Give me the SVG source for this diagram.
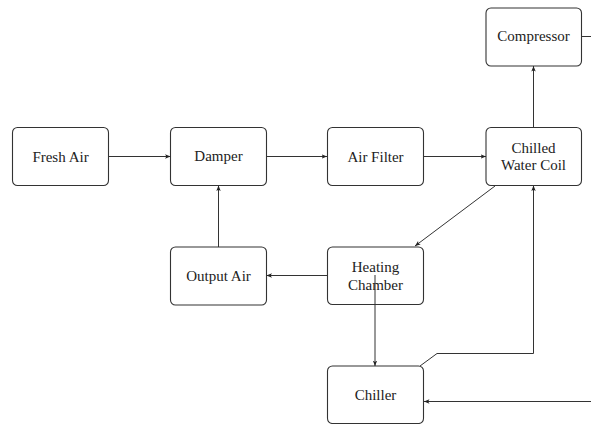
<svg xmlns="http://www.w3.org/2000/svg" width="591" height="424" viewBox="0 0 591 424">
<defs>
<marker id="arr" viewBox="0 0 10 8" refX="10" refY="4" markerWidth="5.5" markerHeight="4.4" markerUnits="userSpaceOnUse" orient="auto">
<path d="M0,0 L10,4 L0,8 L2.5,4 Z" fill="#222"/>
</marker>
</defs>
<style>
.box{fill:#fff;stroke:#333;stroke-width:1.1}
.lbl{font-family:"Liberation Serif","DejaVu Serif",serif;font-size:15px;fill:#222;text-anchor:middle;dominant-baseline:central}
.c{fill:none;stroke:#333;stroke-width:1}
</style>
<rect width="591" height="424" fill="#fff"/>
<g id="fresh-air"><rect class="box" x="12.5" y="127.5" width="96" height="58" rx="5"/><text class="lbl" x="60.5" y="156.5">Fresh Air</text></g>
<g id="damper"><rect class="box" x="170.5" y="127.5" width="96" height="58" rx="5"/><text class="lbl" x="218.5" y="156">Damper</text></g>
<g id="air-filter"><rect class="box" x="327.5" y="127.5" width="96" height="58" rx="5"/><text class="lbl" x="375.5" y="156.5">Air Filter</text></g>
<g id="chilled-water-coil"><rect class="box" x="486" y="127.5" width="95.5" height="58" rx="5"/><text class="lbl" x="533.5" y="148">Chilled</text><text class="lbl" x="533.5" y="165">Water Coil</text></g>
<g id="compressor"><rect class="box" x="486" y="8" width="95.5" height="58" rx="5"/><text class="lbl" x="533.5" y="36">Compressor</text></g>
<g id="output-air"><rect class="box" x="170.5" y="247" width="96" height="58" rx="5"/><text class="lbl" x="218.5" y="275.5">Output Air</text></g>
<g id="heating-chamber"><rect class="box" x="327.5" y="247" width="96" height="57.5" rx="5"/><text class="lbl" x="375.5" y="267">Heating</text><text class="lbl" x="375.5" y="284.5">Chamber</text></g>
<g id="chiller"><rect class="box" x="327.5" y="366" width="96" height="57.5" rx="5"/><text class="lbl" x="375.5" y="395">Chiller</text></g>
<g id="connectors">
<line class="c" x1="109" y1="156.5" x2="170.5" y2="156.5" marker-end="url(#arr)"/>
<line class="c" x1="267" y1="156.5" x2="327" y2="156.5" marker-end="url(#arr)"/>
<line class="c" x1="424" y1="156.5" x2="486" y2="156.5" marker-end="url(#arr)"/>
<line class="c" x1="533.5" y1="127" x2="533.5" y2="66" marker-end="url(#arr)"/>
<line class="c" x1="582" y1="36.5" x2="591" y2="36.5"/>
<line class="c" x1="495" y1="186" x2="415" y2="246" marker-end="url(#arr)"/>
<line class="c" x1="327" y1="275.5" x2="266.5" y2="275.5" marker-end="url(#arr)"/>
<line class="c" x1="218.5" y1="247" x2="218.5" y2="185.5" marker-end="url(#arr)"/>
<line class="c" x1="375" y1="275" x2="375" y2="366" marker-end="url(#arr)"/>
<polyline class="c" points="420,366 437,353.5 533.5,353.5 533.5,185.5" marker-end="url(#arr)"/>
<line class="c" x1="591" y1="401.5" x2="424" y2="401.5" marker-end="url(#arr)"/>
</g>
</svg>
